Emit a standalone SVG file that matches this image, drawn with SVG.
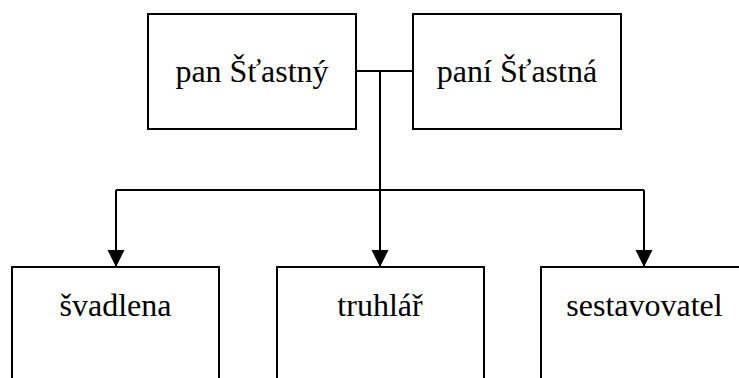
<svg xmlns="http://www.w3.org/2000/svg" width="739" height="378" viewBox="0 0 739 378">
<style>
.box{fill:#fff;stroke:#000;stroke-width:2}
.lbl{font-family:"Liberation Serif","Times New Roman",serif;font-size:32px;fill:#000;text-anchor:middle}
.con{fill:none;stroke:#000;stroke-width:2}
</style>
<defs>
<marker id="arr" markerUnits="userSpaceOnUse" markerWidth="18" markerHeight="18" refX="17" refY="8.5" orient="auto">
<path d="M0,0 L17,8.5 L0,17 Z" fill="#000"/>
</marker>
</defs>
<g id="pan"><rect class="box" x="148" y="14" width="208" height="115"/><text class="lbl" x="252" y="82">pan Šťastný</text></g>
<g id="pani"><rect class="box" x="413" y="14" width="208" height="115"/><text class="lbl" x="517" y="82">paní Šťastná</text></g>
<g id="svadlena"><rect class="box" x="12" y="267" width="207" height="130"/><text class="lbl" x="115.5" y="316">švadlena</text></g>
<g id="truhlar"><rect class="box" x="277" y="267" width="207" height="130"/><text class="lbl" x="380" y="316">truhlář</text></g>
<g id="sestavovatel"><rect class="box" x="541" y="267" width="207" height="130"/><text class="lbl" x="644.5" y="316">sestavovatel</text></g>
<g id="connectors">
<path class="con" d="M356,71 H413"/>
<path class="con" d="M380,71 V190"/>
<path class="con" d="M116,190 H644"/>
<path class="con" d="M116,190 V267" marker-end="url(#arr)"/>
<path class="con" d="M380,190 V267" marker-end="url(#arr)"/>
<path class="con" d="M644,190 V267" marker-end="url(#arr)"/>
</g>
</svg>
